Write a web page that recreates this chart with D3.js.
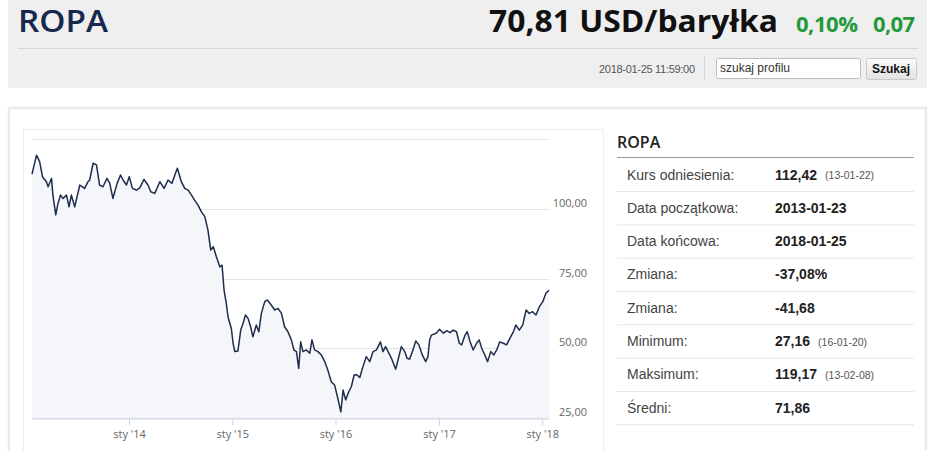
<!DOCTYPE html>
<html>
<head>
<meta charset="utf-8">
<script src="https://cdn.jsdelivr.net/npm/d3@7"></script>
<style>
  body { margin: 0; background: #fff; }
  svg { display: block; }
</style>
</head>
<body>
<svg width="945" height="451"></svg>
<script>
// price series (USD/baryłka)
var dates = ['2013-01-23','2013-02-08','2013-02-19','2013-03-01','2013-03-15','2013-03-21','2013-04-02','2013-04-07','2013-04-17','2013-04-25',
  '2013-05-04','2013-05-13','2013-05-25','2013-06-03','2013-06-11','2013-06-23','2013-07-11','2013-07-28','2013-08-09','2013-08-15',
  '2013-08-27','2013-09-08','2013-09-19','2013-10-01','2013-10-15','2013-10-25','2013-11-05','2013-11-20','2013-12-02','2013-12-11',
  '2013-12-23','2014-01-02','2014-01-13','2014-01-27','2014-02-08','2014-02-23','2014-03-09','2014-03-19','2014-04-02','2014-04-20',
  '2014-05-05','2014-05-19','2014-06-02','2014-06-12','2014-06-21','2014-07-05','2014-07-17','2014-07-29','2014-08-10','2014-08-21',
  '2014-09-02','2014-09-14','2014-09-26','2014-10-07','2014-10-17','2014-10-26','2014-11-06','2014-11-18','2014-11-26','2014-12-03',
  '2014-12-11','2014-12-17','2014-12-29','2015-01-04','2015-01-10','2015-01-21','2015-01-31','2015-02-08','2015-02-17','2015-02-26',
  '2015-03-07','2015-03-15','2015-03-27','2015-04-05','2015-04-14','2015-04-26','2015-05-05','2015-05-19','2015-05-31','2015-06-12',
  '2015-06-24','2015-07-05','2015-07-17','2015-07-29','2015-08-07','2015-08-16','2015-08-24','2015-08-31','2015-09-08','2015-09-20',
  '2015-10-02','2015-10-10','2015-10-19','2015-10-31','2015-11-12','2015-11-24','2015-12-05','2015-12-17','2015-12-29','2016-01-08',
  '2016-01-20','2016-01-28','2016-02-06','2016-02-17','2016-02-26','2016-03-07','2016-03-16','2016-03-27','2016-04-07','2016-04-19',
  '2016-05-01','2016-05-13','2016-05-25','2016-06-08','2016-06-17','2016-06-26','2016-07-05','2016-07-17','2016-08-01','2016-08-09',
  '2016-08-21','2016-09-02','2016-09-10','2016-09-19','2016-09-29','2016-10-11','2016-10-22','2016-11-03','2016-11-15','2016-11-23',
  '2016-11-29','2016-12-05','2016-12-22','2017-01-03','2017-01-17','2017-01-29','2017-02-09','2017-02-20','2017-03-04','2017-03-14',
  '2017-03-22','2017-04-03','2017-04-11','2017-04-21','2017-05-02','2017-05-14','2017-05-23','2017-06-01','2017-06-12','2017-06-22',
  '2017-07-03','2017-07-14','2017-07-24','2017-08-04','2017-08-16','2017-08-28','2017-09-09','2017-09-21','2017-09-30','2017-10-12',
  '2017-10-24','2017-11-05','2017-11-16','2017-11-28','2017-12-10','2017-12-22','2018-01-03','2018-01-14','2018-01-25']

var prices = [112.4, 119.2, 116.9, 111.5, 109.7, 107.9, 110.9, 104.9, 97.8, 102.0,
  104.9, 103.7, 104.9, 100.7, 104.9, 100.7, 108.5, 107.3, 109.7, 110.3,
  116.3, 115.7, 108.5, 107.9, 110.9, 109.1, 103.7, 109.1, 112.1, 110.3,
  108.5, 111.5, 107.3, 106.7, 107.5, 110.5, 108.5, 106.1, 105.5, 109.7,
  107.3, 110.3, 109.1, 112.1, 114.5, 109.7, 107.3, 106.7, 104.9, 103.1,
  101.3, 98.9, 97.2, 92.4, 85.2, 86.4, 82.8, 79.2, 79.8, 70.9,
  66.1, 61.3, 57.0, 51.8, 48.8, 49.0, 56.5, 58.9, 61.9, 60.7,
  57.7, 54.1, 58.3, 55.9, 62.5, 66.7, 67.3, 65.5, 63.7, 64.3,
  62.5, 57.7, 55.9, 53.0, 49.4, 48.8, 42.8, 52.3, 48.8, 49.4,
  48.2, 53.0, 49.4, 48.8, 47.6, 45.2, 42.2, 38.0, 36.8, 32.6,
  27.2, 35.0, 31.5, 34.4, 36.2, 40.4, 40.5, 39.5, 43.4, 47.0,
  45.2, 48.8, 49.4, 52.3, 48.8, 50.6, 48.8, 46.4, 42.5, 45.8,
  50.6, 48.8, 46.4, 46.1, 48.8, 52.6, 51.2, 47.6, 45.2, 47.0,
  53.0, 54.7, 55.4, 56.8, 55.4, 56.3, 55.6, 56.5, 55.9, 51.8,
  51.2, 54.7, 55.9, 52.3, 49.4, 51.8, 53.0, 50.0, 47.6, 45.2,
  48.8, 47.6, 49.4, 52.3, 51.8, 51.2, 53.6, 55.9, 58.3, 56.5,
  58.3, 63.7, 62.5, 63.1, 61.9, 64.9, 66.7, 69.7, 70.8]

var yTicks = [25, 50, 75, 100, 125]

// side table
var statLabels = ['Kurs odniesienia:', 'Data początkowa:', 'Data końcowa:', 'Zmiana:', 'Zmiana:', 'Minimum:', 'Maksimum:', 'Średni:']
var statValues = ['112,42', '2013-01-23', '2018-01-25', '-37,08%', '-41,68', '27,16', '119,17', '71,86']
var statDates = ['(13-01-22)', '', '', '', '', '(16-01-20)', '(13-02-08)', '']

var svg = d3.select('svg')
var parse = d3.timeParse('%Y-%m-%d')
var series = dates.map((d, i) => ({ date: parse(d), value: prices[i] }))

// ---- header bar
svg.append('rect')
    .attr('x', 8).attr('y', 0)
    .attr('width', 919).attr('height', 88)
    .attr('fill', '#efefef')

svg.append('text')
    .text('ROPA')
    .attr('x', 18).attr('y', 32)
    .attr('textLength', 90)
    .attr('lengthAdjust', 'spacingAndGlyphs')
    .style('font-family', 'Open Sans')
    .style('font-weight', 600)
    .style('font-size', '30px')
    .attr('fill', '#16284d')

svg.append('text')
    .text('70,81 USD/baryłka')
    .attr('x', 489).attr('y', 32)
    .attr('textLength', 289)
    .attr('lengthAdjust', 'spacingAndGlyphs')
    .style('font-family', 'Open Sans')
    .style('font-weight', 700)
    .style('font-size', '30px')
    .attr('fill', '#111')

svg.append('text')
    .text('0,10%')
    .attr('x', 796).attr('y', 32)
    .attr('textLength', 62)
    .style('font-family', 'Open Sans')
    .style('font-weight', 700)
    .style('font-size', '22px')
    .attr('fill', '#229a3c')

svg.append('text')
    .text('0,07')
    .attr('x', 873).attr('y', 32)
    .attr('textLength', 42)
    .style('font-family', 'Open Sans')
    .style('font-weight', 700)
    .style('font-size', '22px')
    .attr('fill', '#229a3c')

svg.append('line')
    .attr('x1', 18).attr('y1', 48.5)
    .attr('x2', 918).attr('y2', 48.5)
    .attr('stroke', '#d6d6d6')

svg.append('text')
    .text('2018-01-25 11:59:00')
    .attr('x', 695).attr('y', 73)
    .attr('textLength', 96)
    .style('text-anchor', 'end')
    .style('font-family', 'Liberation Sans Narrow, Liberation Sans, Arial')
    .style('font-size', '11px')
    .attr('fill', '#555')

svg.append('line')
    .attr('x1', 704.5).attr('y1', 56)
    .attr('x2', 704.5).attr('y2', 81)
    .attr('stroke', '#d6d6d6')

svg.append('rect')
    .attr('x', 716.5).attr('y', 58.5)
    .attr('width', 144).attr('height', 20)
    .attr('rx', 2)
    .attr('fill', '#fff')
    .attr('stroke', '#bdbdbd')

svg.append('text')
    .text('szukaj profilu')
    .attr('x', 720).attr('y', 72)
    .style('font-family', 'Liberation Sans, Arial')
    .style('font-size', '12px')
    .attr('fill', '#333')

var grad = svg.append('defs').append('linearGradient')
    .attr('id', 'btn').attr('x1', 0).attr('y1', 0).attr('x2', 0).attr('y2', 1)
grad.append('stop').attr('offset', '0%').attr('stop-color', '#fafafa')
grad.append('stop').attr('offset', '100%').attr('stop-color', '#e2e2e2')

svg.append('rect')
    .attr('x', 866.5).attr('y', 58.5)
    .attr('width', 50).attr('height', 21)
    .attr('rx', 2)
    .attr('fill', 'url(#btn)')
    .attr('stroke', '#c8c8c8')

svg.append('text')
    .text('Szukaj')
    .attr('x', 891).attr('y', 73)
    .style('text-anchor', 'middle')
    .style('font-family', 'Liberation Sans, Arial')
    .style('font-weight', 700)
    .style('font-size', '12px')
    .attr('fill', '#111')

// ---- content panel
svg.append('rect')
    .attr('x', 9).attr('y', 108)
    .attr('width', 917).attr('height', 360)
    .attr('fill', '#fff')
    .attr('stroke', '#ebebeb')
    .attr('stroke-width', 2.5)

svg.append('rect')
    .attr('x', 23.5).attr('y', 129.5)
    .attr('width', 580).attr('height', 340)
    .attr('fill', '#fff')
    .attr('stroke', '#ededed')

// ---- chart
var x = d3.scaleTime()
    .domain([series[0].date, series[series.length - 1].date])
    .range([32, 549])

var y = d3.scaleLinear()
    .domain([25, 125])
    .range([418, 139])

var chart = svg.append('g')

chart.selectAll('line.grid')
    .data(yTicks)
    .enter()
    .append('line')
    .attr('class', 'grid')
    .attr('x1', 32).attr('x2', 549)
    .attr('y1', d => Math.round(y(d)) + 0.5)
    .attr('y2', d => Math.round(y(d)) + 0.5)
    .attr('stroke', '#e2e2e2')

chart.append('path')
    .datum(series)
    .attr('d', d3.area().x(d => x(d.date)).y0(y(25)).y1(d => y(d.value)))
    .attr('fill', '#f4f6f9')

chart.append('path')
    .datum(series)
    .attr('d', d3.line().x(d => x(d.date)).y(d => y(d.value)))
    .attr('fill', 'none')
    .attr('stroke', '#1d2d4c')
    .attr('stroke-width', 1.5)
    .attr('stroke-linejoin', 'round')

// y labels on the right, sitting just above their grid line
chart.selectAll('text.ylab')
    .data(yTicks.filter(d => d < 125))
    .enter()
    .append('text')
    .attr('class', 'ylab')
    .text(d => d3.format('.2f')(d).replace('.', ','))
    .attr('x', 587)
    .attr('y', d => y(d) - 2)
    .style('text-anchor', 'end')
    .style('font-family', 'Open Sans')
    .style('font-size', '11px')
    .attr('fill', '#666')

// x axis
var xAxis = d3.axisBottom(x)
    .ticks(d3.timeYear.every(1))
    .tickFormat(d => "sty '" + d3.timeFormat('%y')(d))
    .tickSize(7)
    .tickSizeOuter(0)

var gx = chart.append('g')
    .attr('transform', 'translate(0,' + (y(25) + 0.5) + ')')
    .call(xAxis)

gx.select('.domain').attr('stroke', '#ccd6eb')
gx.selectAll('.tick line').attr('stroke', '#ccd6eb')
gx.selectAll('.tick text')
    .attr('y', 12)
    .attr('dy', '0.71em')
    .style('font-family', 'Open Sans')
    .style('font-size', '11px')
    .attr('fill', '#666')

// ---- side table
var row = d3.scaleLinear().domain([0, 8]).range([158, 424.6])

svg.append('text')
    .text('ROPA')
    .attr('x', 617).attr('y', 148)
    .style('font-family', 'Open Sans')
    .style('font-weight', 600)
    .style('font-size', '16px')
    .attr('fill', '#222')

svg.append('line')
    .attr('x1', 617).attr('y1', 157.5)
    .attr('x2', 914).attr('y2', 157.5)
    .attr('stroke', '#9a9a9a')

var rows = svg.selectAll('g.row')
    .data(statLabels)
    .enter()
    .append('g')
    .attr('class', 'row')
    .attr('transform', (d, i) => 'translate(0,' + row(i) + ')')

rows.append('line')
    .attr('x1', 617).attr('x2', 914)
    .attr('y1', 33.5).attr('y2', 33.5)
    .attr('stroke', '#e6e6e6')

rows.append('text')
    .text(d => d)
    .attr('x', 627).attr('y', 21.5)
    .style('font-family', 'Liberation Sans, Arial')
    .style('font-size', '14px')
    .attr('fill', '#444')

var vals = rows.append('text')
    .text((d, i) => statValues[i])
    .attr('x', 775).attr('y', 21.5)
    .style('font-family', 'Liberation Sans, Arial')
    .style('font-weight', 700)
    .style('font-size', '14px')
    .attr('fill', '#222')

// the small date follows the value inline
rows.append('text')
    .text((d, i) => statDates[i])
    .attr('x', (d, i) => 775 + vals.nodes()[i].getComputedTextLength() + 8)
    .attr('y', 21)
    .style('font-family', 'Liberation Sans, Arial')
    .style('font-size', '10.5px')
    .attr('fill', '#555')
</script>
</body>
</html>
